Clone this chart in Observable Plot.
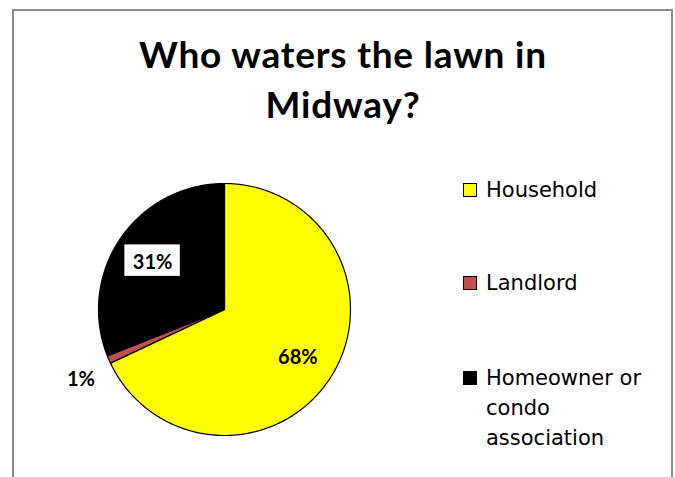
<!DOCTYPE html>
<html>
<head>
<meta charset="utf-8">
<script src="https://cdn.jsdelivr.net/npm/d3@7"></script>
<script src="https://cdn.jsdelivr.net/npm/@observablehq/plot@0.6"></script>
<style>
  html, body { margin: 0; padding: 0; background: #fff; }
  #wrap { position: relative; width: 675px; height: 477px; overflow: hidden; background: #fff; }
  #frame { position: absolute; left: 12px; top: 9px; width: 657px; height: 600px; border: 2px solid #8a8a8a; }
  #title { position: absolute; left: 0; top: 29px; width: 686px; text-align: center;
           font-family: Lato, sans-serif; font-weight: 700; font-size: 37px; line-height: 50px;
           letter-spacing: 0.8px; color: #000; }
  #chart { position: absolute; left: 0; top: 0; }
  .leg { position: absolute; left: 463px; font-family: "DejaVu Sans", sans-serif; font-size: 21px; line-height: 30px; color: #000; }
  .leg .sw { position: absolute; left: 0; top: 8px; width: 12px; height: 12px; border: 1px solid #000; }
  .leg .tx { position: absolute; left: 23px; top: 0; width: 200px; }
</style>
</head>
<body>
<div id="wrap">
  <div id="frame"></div>
  <div id="chart"></div>
  <div id="title">Who waters the lawn in<br>Midway?</div>
</div>
<script>
// ---- data ----
const categories = ["Household", "Landlord", "Homeowner or condo association"];
const legendLines = [["Household"], ["Landlord"], ["Homeowner or", "condo", "association"]];
const shares = [68, 1, 31];
const sliceColors = ["#FFFF00", "#C0504D", "#000000"];
const pctLabels = ["68%", "1%", "31%"];

// ---- geometry from data ----
const pie = d3.pie().sort(null).value(d => d)(shares);
const poly = [];
pie.forEach((s, i) => {
  const a0 = s.startAngle, a1 = s.endAngle;
  const n = Math.max(2, Math.ceil((a1 - a0) / (Math.PI / 360)));
  poly.push({cat: categories[i], color: sliceColors[i], x: 0, y: 0});
  for (let k = 0; k <= n; k++) {
    const a = a0 + (a1 - a0) * k / n;
    poly.push({cat: categories[i], color: sliceColors[i], x: Math.sin(a), y: Math.cos(a)});
  }
  poly.push({cat: categories[i], color: sliceColors[i], x: 0, y: 0});
});

const labelRadius = [0.69, 1.25, 0.69];
const labelData = pie.map((s, i) => {
  const a = (s.startAngle + s.endAngle) / 2;
  return {text: pctLabels[i], x: Math.sin(a) * labelRadius[i], y: Math.cos(a) * labelRadius[i], inside: i !== 1, boxed: i === 2};
});
const boxes = labelData.filter(d => d.boxed).map(d => ({x1: d.x - 0.22, x2: d.x + 0.22, y1: d.y - 0.125, y2: d.y + 0.125}));

const chart = Plot.plot({
  width: 675,
  height: 477,
  margin: 0,
  x: {domain: [-1, 1], range: [98, 350], axis: null},
  y: {domain: [-1, 1], range: [435, 183], axis: null},
  color: {type: "identity"},
  style: {background: "transparent", overflow: "visible"},
  marks: [
    Plot.line(poly, {x: "x", y: "y", z: "cat", fill: "color", stroke: "#000", strokeWidth: 1.2, strokeLinejoin: "round"}),
    Plot.rect(boxes, {x1: "x1", x2: "x2", y1: "y1", y2: "y2", fill: "#fff"}),
    Plot.text(labelData.filter(d => d.inside), {x: "x", y: "y", text: "text", fontFamily: "Lato, sans-serif", fontWeight: 700, fontSize: 20, fill: "#000", dy: 2}),
    Plot.text(labelData.filter(d => !d.inside), {x: "x", y: "y", text: "text", fontFamily: "Lato, sans-serif", fontWeight: 700, fontSize: 20, fill: "#000", dx: 1, dy: 8})
  ]
});
document.getElementById("chart").appendChild(chart);

// ---- legend ----
const legendTops = [175, 268, 363];
const wrap = document.getElementById("wrap");
categories.forEach((c, i) => {
  const item = document.createElement("div");
  item.className = "leg";
  item.style.top = legendTops[i] + "px";
  const sw = document.createElement("div");
  sw.className = "sw";
  sw.style.background = sliceColors[i];
  const tx = document.createElement("div");
  tx.className = "tx";
  tx.innerHTML = legendLines[i].join("<br>");
  item.appendChild(sw);
  item.appendChild(tx);
  wrap.appendChild(item);
});
</script>
</body>
</html>
